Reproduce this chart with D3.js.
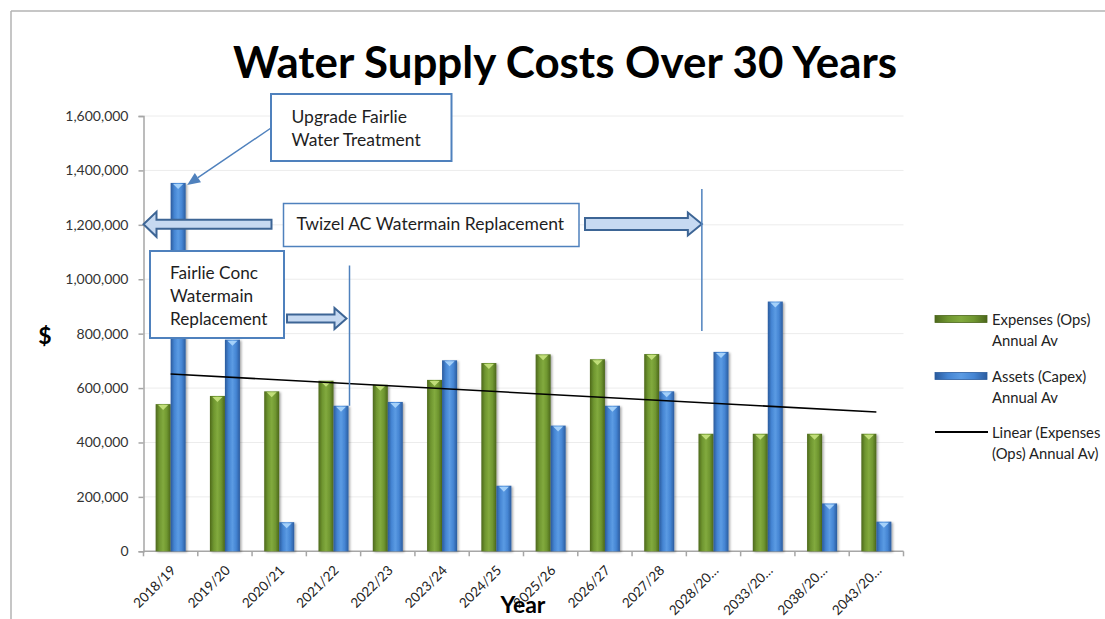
<!DOCTYPE html>
<html>
<head>
<meta charset="utf-8">
<script src="https://cdn.jsdelivr.net/npm/d3@7"></script>
<style>
  html, body { margin: 0; padding: 0; background: #fff; }
  svg { display: block; }
  text { font-family: Lato, "Open Sans", sans-serif; }
</style>
</head>
<body>
<svg id="chart" width="1105" height="619"></svg>
<script>
// ---------------- DATA ----------------
const categories = ["2018/19","2019/20","2020/21","2021/22","2022/23","2023/24","2024/25",
                    "2025/26","2026/27","2027/28","2028/20…","2033/20…","2038/20…","2043/20…"];
const expensesOps = [541000, 571000, 588000, 627000, 612000, 630000, 692000,
                     724000, 706000, 725000, 432000, 432000, 432000, 432000];
const assetsCapex = [1354000, 778000, 107000, 535000, 549000, 702000, 241000,
                     462000, 535000, 588000, 733000, 918000, 176000, 109000];
const yTicks = [0, 200000, 400000, 600000, 800000, 1000000, 1200000, 1400000, 1600000];
const seriesNames = ["Expenses (Ops) Annual Av", "Assets (Capex) Annual Av"];
const legendLabels = [["Expenses (Ops)", "Annual Av"], ["Assets (Capex)", "Annual Av"], ["Linear (Expenses", "(Ops) Annual Av)"]];
const titleText = "Water Supply Costs Over 30 Years";
const annoUpgrade = ["Upgrade Fairlie", "Water Treatment"];
const annoTwizel = "Twizel AC Watermain Replacement";
const annoFairlie = ["Fairlie Conc", "Watermain", "Replacement"];

// ---------------- SETUP ----------------
const svg = d3.select("#chart");
const plot = { left: 143.5, right: 903.5, top: 116, bottom: 551.3 };

const x = d3.scaleBand().domain(categories).range([plot.left, plot.right]).padding(0);
const y = d3.scaleLinear().domain([0, 1600000]).range([plot.bottom, plot.top]);
const barW = 15;
const xSub = d3.scaleBand().domain(seriesNames).range([-barW, barW]).padding(0);
const cx = c => x(c) + x.bandwidth() / 2;

// defs: gradients + shadow
const defs = svg.append("defs");
function grad(id, stops) {
  const g = defs.append("linearGradient").attr("id", id).attr("x1", "0%").attr("x2", "100%").attr("y1", "0%").attr("y2", "0%");
  stops.forEach(s => g.append("stop").attr("offset", s[0]).attr("stop-color", s[1]));
}
grad("gGreen", [["0%", "#4d681c"], ["25%", "#6f9630"], ["50%", "#82aa3e"], ["75%", "#6f9630"], ["100%", "#4b661b"]]);
grad("gBlue",  [["0%", "#2a5a9c"], ["25%", "#4585d3"], ["50%", "#5b9be3"], ["75%", "#4585d3"], ["100%", "#2b5c9f"]]);
const f = defs.append("filter").attr("id", "shadow").attr("x", "-30%").attr("y", "-5%").attr("width", "160%").attr("height", "115%");
f.append("feDropShadow").attr("dx", 1.5).attr("dy", 1).attr("stdDeviation", 1.2).attr("flood-color", "#000").attr("flood-opacity", 0.35);

// frame
svg.append("line").attr("x1", 11).attr("x2", 1105).attr("y1", 11).attr("y2", 11).attr("stroke", "#b3b3b3").attr("stroke-width", 1.5);
svg.append("line").attr("x1", 11).attr("x2", 11).attr("y1", 11).attr("y2", 619).attr("stroke", "#b3b3b3").attr("stroke-width", 1.5);

// gridlines
svg.append("g").selectAll("line").data(yTicks.slice(1)).join("line")
  .attr("x1", plot.left).attr("x2", plot.right)
  .attr("y1", d => y(d)).attr("y2", d => y(d))
  .attr("stroke", "#ececec").attr("stroke-width", 1);

// y axis
const yAxis = d3.axisLeft(y).tickValues(yTicks).tickFormat(d3.format(",")).tickSize(5).tickPadding(10);
const gy = svg.append("g").attr("transform", `translate(${plot.left},0)`).call(yAxis);
gy.select(".domain").attr("stroke", "#a6a6a6").attr("stroke-width", 1.5);
gy.selectAll(".tick line").attr("stroke", "#a6a6a6").attr("stroke-width", 1.5);
gy.selectAll(".tick text").attr("font-size", 14).attr("fill", "#333").attr("font-family", "Lato, sans-serif");

// x axis (ticks at category boundaries)
svg.append("line").attr("x1", plot.left).attr("x2", plot.right).attr("y1", plot.bottom).attr("y2", plot.bottom)
  .attr("stroke", "#a6a6a6").attr("stroke-width", 1.5);
const bounds = categories.map(c => x(c)).concat([plot.right]);
svg.append("g").selectAll("line").data(bounds).join("line")
  .attr("x1", d => d).attr("x2", d => d).attr("y1", plot.bottom).attr("y2", plot.bottom + 5)
  .attr("stroke", "#a6a6a6").attr("stroke-width", 1.5);
svg.append("g").selectAll("text").data(categories).join("text")
  .attr("transform", c => `translate(${cx(c) + 6},${plot.bottom + 20}) rotate(-45)`)
  .attr("text-anchor", "end").attr("font-size", 13.5).attr("fill", "#222")
  .text(c => c);

// bars
const seriesData = [expensesOps, assetsCapex];
const fills = ["url(#gGreen)", "url(#gBlue)"];
const capFill = ["#c4e07c", "#a9d4fb"];
const barsG = svg.append("g");
seriesData.forEach((vals, si) => {
  const g = barsG.append("g");
  const rows = categories.map((c, i) => ({ c, v: vals[i] }));
  g.selectAll("rect").data(rows).join("rect")
    .attr("x", d => cx(d.c) + xSub(seriesNames[si]))
    .attr("y", d => y(d.v))
    .attr("width", xSub.bandwidth())
    .attr("height", d => y(0) - y(d.v))
    .attr("fill", fills[si])
    .attr("filter", "url(#shadow)");
  g.selectAll("path").data(rows).join("path")
    .attr("d", d => {
      const x0 = cx(d.c) + xSub(seriesNames[si]), w = xSub.bandwidth(), t = y(d.v);
      return `M${x0 + 2.5},${t + 1} L${x0 + w - 2.5},${t + 1} L${x0 + w / 2},${t + 6} Z`;
    })
    .attr("fill", capFill[si]).attr("opacity", 0.95);
});

// linear trendline for expenses (least-squares fit of the series)
const n = expensesOps.length;
const xm = (n - 1) / 2, ym = d3.mean(expensesOps);
const slope = d3.sum(expensesOps, (v, i) => (i - xm) * (v - ym)) / d3.sum(expensesOps, (v, i) => (i - xm) * (i - xm));
const icpt = ym - slope * xm;
const trend = [0, n - 1].map(i => ({ c: categories[i], v: icpt + slope * i }));
svg.append("path").datum(trend)
  .attr("d", d3.line().x(d => cx(d.c)).y(d => y(d.v)))
  .attr("stroke", "#000").attr("stroke-width", 1.6).attr("fill", "none");

// ---------------- ANNOTATIONS ----------------
const annoStroke = "#4f81bd";
const arrowFill = "#c6d9f1", arrowStroke = "#3d6595";
function blockArrow(xFrom, xTip, cyv, bodyH, headH, headL) {
  const dir = Math.sign(xTip - xFrom);
  const xh = xTip - dir * headL;
  const pts = [[xFrom, cyv - bodyH / 2], [xh, cyv - bodyH / 2], [xh, cyv - headH / 2], [xTip, cyv],
               [xh, cyv + headH / 2], [xh, cyv + bodyH / 2], [xFrom, cyv + bodyH / 2]];
  svg.append("path").attr("d", "M" + pts.map(p => p.join(",")).join("L") + "Z")
    .attr("fill", arrowFill).attr("stroke", arrowStroke).attr("stroke-width", 2).attr("stroke-linejoin", "miter");
}
function box(x0, y0, w, h, sw) {
  svg.append("rect").attr("x", x0).attr("y", y0).attr("width", w).attr("height", h)
    .attr("fill", "#fff").attr("stroke", annoStroke).attr("stroke-width", sw);
}
function lines(x0, ys, arr, size) {
  arr.forEach((t, i) => svg.append("text").attr("x", x0).attr("y", ys[i]).attr("font-size", size)
    .attr("fill", "#1e1e1e").attr("dominant-baseline", "central").text(t));
}

// Upgrade Fairlie Water Treatment -> points at the 2018/19 capex bar
const topBlue = { x: cx(categories[0]) + barW, y: y(assetsCapex[0]) };
const aStart = [271, 128], aTip = [topBlue.x + 1.5, topBlue.y + 2];
{
  const ang = Math.atan2(aTip[1] - aStart[1], aTip[0] - aStart[0]);
  const hl = 13, hw = 5.5;
  const bx = aTip[0] - hl * Math.cos(ang), by = aTip[1] - hl * Math.sin(ang);
  svg.append("line").attr("x1", aStart[0]).attr("y1", aStart[1]).attr("x2", bx).attr("y2", by)
    .attr("stroke", annoStroke).attr("stroke-width", 1.5);
  svg.append("path").attr("d", `M${aTip[0]},${aTip[1]} L${bx + hw * Math.sin(ang)},${by - hw * Math.cos(ang)} L${bx - hw * Math.sin(ang)},${by + hw * Math.cos(ang)} Z`)
    .attr("fill", annoStroke);
}
box(271, 94, 180.5, 67, 2);
lines(291.5, [116, 139], annoUpgrade, 17.5);

// Twizel AC Watermain Replacement
const twY = y(1200000) - 0.5;
blockArrow(271.5, plot.left, twY, 9, 25, 13);
box(283.5, 203.5, 295.5, 43, 1.5);
lines(296.5, [223], [annoTwizel], 17.5);
const twLineX = x(categories[10]) + 15.5;
blockArrow(585, twLineX, 224, 12, 23, 14);
svg.append("line").attr("x1", twLineX).attr("x2", twLineX).attr("y1", 189).attr("y2", 331)
  .attr("stroke", annoStroke).attr("stroke-width", 1.5);

// Fairlie Conc Watermain Replacement
const fcLineX = cx(categories[3]) + barW + 1;
svg.append("line").attr("x1", fcLineX).attr("x2", fcLineX).attr("y1", 265.5).attr("y2", y(assetsCapex[3]))
  .attr("stroke", annoStroke).attr("stroke-width", 1.5);
box(150, 251, 134, 87, 2);
lines(170, [272.5, 295.5, 318.5], annoFairlie, 17.2);
blockArrow(287, fcLineX - 3, 318.5, 8, 21, 12);

// ---------------- TITLE / AXIS TITLES ----------------
const title = svg.append("text").attr("x", 565).attr("y", 78).attr("text-anchor", "middle")
  .attr("font-weight", 700).attr("font-size", 40).attr("fill", "#000").text(titleText);
const tw = title.node().getComputedTextLength();
title.attr("font-size", 40 * 664 / tw);

svg.append("text").attr("x", 45).attr("y", 344).attr("text-anchor", "middle")
  .attr("font-weight", 700).attr("font-size", 23).text("$");
svg.append("text").attr("x", 523).attr("y", 613).attr("text-anchor", "middle")
  .attr("font-weight", 700).attr("font-size", 23).text("Year");

// ---------------- LEGEND ----------------
const lg = svg.append("g");
const legY = [319, 376, 432];
[0, 1].forEach(i => {
  lg.append("rect").attr("x", 935).attr("y", legY[i] - 3.5).attr("width", 52).attr("height", 7)
    .attr("fill", fills[i]).attr("stroke", i === 0 ? "#4b661b" : "#2b5c9f").attr("stroke-width", 0.8);
});
lg.append("line").attr("x1", 935).attr("x2", 988).attr("y1", legY[2]).attr("y2", legY[2]).attr("stroke", "#000").attr("stroke-width", 2);
legendLabels.forEach((ls, i) => {
  ls.forEach((t, j) => lg.append("text").attr("x", 992).attr("y", legY[i] + j * 21)
    .attr("dominant-baseline", "central").attr("font-size", 14.8).attr("fill", "#222").text(t));
});
</script>
</body>
</html>
